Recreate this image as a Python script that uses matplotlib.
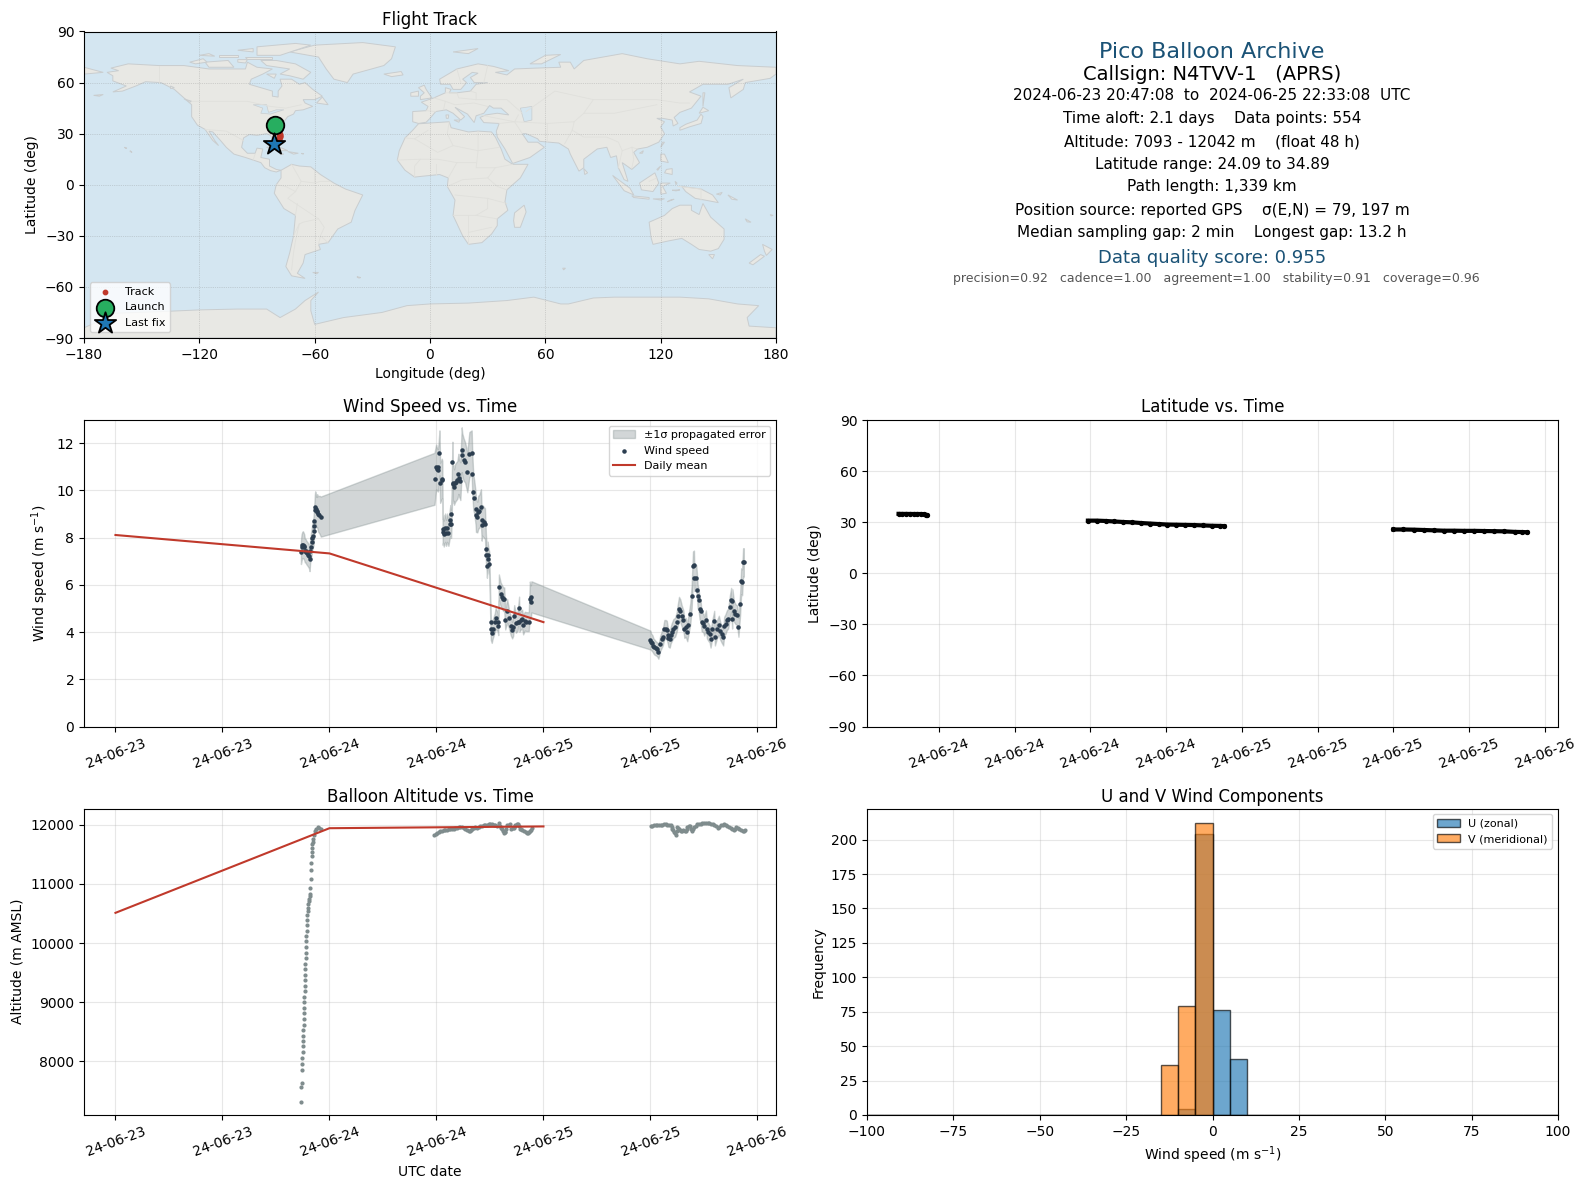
# -*- coding: utf-8 -*-
from datetime import datetime, timedelta

import numpy as np
import matplotlib
matplotlib.use("Agg")
import matplotlib.pyplot as plt
import matplotlib.dates as mdates
from matplotlib.patches import Polygon

W, H = 1587, 1189
BASE = datetime(2024, 6, 23)

# --- coarse land outlines (lon, lat) ---
north_america = [(-168,66),(-162,67),(-166,68.5),(-157,71),(-141,70),(-128,70),(-115,68),(-108,68),(-96,68),(-95,72),(-90,69),(-82,68),(-87,65),(-93,62),(-94,59),(-88,57),(-82,55),(-82,52),(-79,51.5),(-79,55),(-77,58),(-78,62),(-72,62),(-68,59),(-65,60),(-61,56),(-56,52),(-60,50),(-66,50),(-65,48),(-61,46),(-66,44),(-70,43.5),(-71,41.5),(-74,40),(-76,37),(-76,35),(-80,32),(-81,30),(-80,26),(-81,25),(-83,29),(-85,30),(-90,29),(-94,29.5),(-97,27.5),(-98,22),(-95,18.5),(-91,18.5),(-90,21.5),(-87,21),(-88,16),(-83.5,15),(-83.5,11),(-80,9),(-77.5,8.5),(-80,7.5),(-83,8.3),(-86,10),(-88,13),(-92,14.5),(-96,16),(-102,18),(-106,22),(-109,26),(-113,31),(-115,31.5),(-112,26),(-110,23),(-113,26),(-117,32.5),(-121,35),(-124,40),(-124,47),(-128,51),(-133,56),(-140,60),(-148,60.5),(-153,58),(-160,55),(-165,54.5),(-158,58),(-165,61),(-165,64)]
greenland = [(-73,78),(-60,82),(-35,83.5),(-18,81),(-20,74),(-24,70),(-40,65),(-43,60),(-50,62),(-54,68),(-58,75)]
south_america = [(-77.5,8.5),(-72,12),(-68,11),(-62,10.5),(-57,6),(-50,1),(-44,-2.5),(-35,-6),(-39,-15),(-41,-22),(-48,-26),(-53,-34),(-58,-35),(-57,-38),(-65,-41),(-66,-46),(-69,-52),(-65,-55),(-72,-53.5),(-75,-48),(-73,-40),(-71,-30),(-70,-18),(-76,-14),(-81,-5),(-80,0),(-77.5,4)]
africa = [(-6,35.8),(10,37),(11,33.5),(20,31),(25,31.5),(32,31),(34,28),(37,21),(39,15),(43,12),(51,12),(47,4),(40,-3),(39,-10),(40.5,-15),(35,-20),(35,-24),(32,-29),(27,-34),(20,-35),(17,-30),(12,-18),(13,-9),(9,-1),(9.5,4),(5,6),(-4,5),(-8,4.5),(-13,8.5),(-17,14.5),(-16,20),(-13,27.5),(-9,32)]
eurasia = [(-9,37),(-9,43),(-2,43.5),(-1,46),(-4.5,48.5),(2,51),(8,54),(8,57),(11,56),(10,54),(14,54),(21,55),(24,59),(30,60),(23,60),(21,63),(25,65.5),(22,66),(17,62),(19,60),(16,56),(12,56),(10.5,59),(5.5,59),(5,62),(14,68),(25,71),(33,69.5),(41,67),(34,66),(40,64.5),(44,68),(55,68.5),(68,69),(67,72),(73,72),(75,68),(80,73),(100,77),(113,74),(130,71),(140,72.5),(160,70),(170,69.5),(180,69),(180,65),(177,62.5),(164,60),(163,56),(156.5,51),(155.5,57),(163,62),(155,59),(142,59),(135,54.5),(141,52),(136,45),(130,42.5),(127,39.5),(129,36),(126.5,34.5),(126,38),(121,39),(118,39),(122,37),(120,34),(122,30),(119,25),(113,22),(108,21),(106,19),(109,13),(105,9),(100,13),(103,2),(101,3),(98,10),(97,17),(94,16),(92,22),(87,21),(80,15),(80,10),(77.5,8),(73,18),(72,21),(67,24.5),(57,25.5),(56,27),(50,30),(48,30),(51,25),(56,25),(59.5,22),(52,16),(43,12.5),(39,21),(35,28),(34.5,31.5),(36,36),(28,36.5),(26,39.5),(29,41),(35,42),(41,41),(37,45),(33,45),(31,46.5),(28,42),(24,40.5),(23,36.5),(19.5,41.5),(13,45.5),(18,40),(16,38),(12,42),(8.5,44),(3,43),(0,39),(-2,36.7),(-6,36)]
australia = [(114,-22),(122,-18),(126,-14),(130,-12),(136,-12),(136,-15),(140,-17.5),(142,-11),(146,-19),(153,-26),(153,-32),(150,-37.5),(146,-39),(140,-38),(136,-35),(131,-31.5),(124,-33),(116,-35),(115,-31)]
antarctica = [(-180,-90),(-180,-84),(-172,-80),(-165,-75.5),(-140,-74.5),(-120,-73.5),(-100,-73),(-85,-73),(-78,-78),(-70,-73),(-65,-68),(-58,-63),(-62,-68),(-62,-74),(-60,-82),(-45,-78),(-25,-75),(-12,-71),(0,-70),(20,-69.5),(40,-68),(54,-66),(68,-70),(72,-70),(85,-66.5),(96,-66),(115,-66),(130,-66),(145,-67),(160,-70),(171,-71),(165,-78),(166,-83),(180,-84),(180,-90)]
islands = [
    [(-80,73),(-70,71),(-62,66),(-66,62),(-73,64),(-78,65),(-73,68),(-85,70),(-88,73)],
    [(-117,72),(-105,73),(-102,69),(-115,69)],
    [(-90,76),(-78,76),(-62,82),(-70,83),(-90,81)],
    [(-125,72),(-118,74),(-116,72),(-122,71)],
    [(-96,75),(-82,75),(-82,74),(-95,74)],
    [(-110,76),(-100,76),(-100,75),(-110,75)],
    [(-120,76),(-115,77),(-112,75.5)],
    [(-100,79),(-92,80),(-92,78)],
    [(-100,73.5),(-95,73.5),(-96,71.5),(-100,72)],
    [(-85,65),(-80,65),(-81,62.5)],
    [(-59,48),(-53,47),(-56,51.5)],
    [(-85,22),(-80,23),(-74,20),(-78,20)],
    [(-74,19.5),(-68.5,18.5),(-71,18)],
    [(-78,18.3),(-76.2,18),(-77,17.8)],
    [(-67,18.4),(-65.7,18.3),(-66,18)],
    [(-128,50.5),(-124,49),(-125,48.5)],
    [(-135,58),(-133,57),(-135,56.5)],
    [(-175,52.5),(-170,53),(-172,52)],
    [(-5,50),(1,51),(-2,56),(-3,58.5),(-6,57),(-3,54),(-5,52)],
    [(-10,52),(-6,52),(-6,55),(-10,54)],
    [(-24,65),(-15,66.5),(-14,64.5),(-20,63.5)],
    [(12,78),(25,80),(20,77)],
    [(52,71),(58,71),(68,76.5),(60,76)],
    [(8.3,41),(9.7,41),(9.5,39),(8.5,39)],
    [(12.5,38),(15.5,38),(15,36.7)],
    [(130,32),(135,34),(141,36),(142,40),(141,41.5),(139,38),(133,35.5),(130,33.5)],
    [(140,42),(145,43.5),(142,45.5)],
    [(142,46),(143,54),(142,54)],
    [(120,22),(122,25),(121,25)],
    [(109,18.5),(111,20),(110.5,18.5)],
    [(120,18),(122,18),(124,13),(120,14)],
    [(122,7),(126,6),(126,9.5),(123,9)],
    [(118,9),(120,11),(118.5,8.5)],
    [(95,5.5),(104,-2),(106,-6),(101,-3.5)],
    [(105,-6.5),(114,-7.5),(114,-8.5),(106,-7.5)],
    [(116,-8.3),(122,-8.2),(120,-9)],
    [(123.5,-10),(127,-8.5),(125,-9)],
    [(109,1),(117,7),(119,1),(116,-4),(110,-3)],
    [(120,1),(125,1),(121,-1),(123,-5),(120,-5.5)],
    [(127.5,2),(128.5,1),(128,0)],
    [(126,-3.2),(130,-3),(128,-3.6)],
    [(131,-1),(141,-2.5),(147,-6),(150,-10.5),(143,-9),(138,-8),(133,-4)],
    [(149,-5.5),(152,-4.5),(151,-6)],
    [(155,-6),(160,-9),(157,-8.5)],
    [(164,-20),(167,-22),(165,-21.8)],
    [(177,-17.5),(178.5,-18),(177.5,-18.3)],
    [(145,-41),(148,-41),(147,-43.5)],
    [(173,-35),(178,-38),(175,-41.5),(174,-39)],
    [(172,-41),(174,-42),(168,-47),(166,-46)],
    [(49,-12),(50,-16),(47,-25),(44,-25),(43.5,-21),(44,-16.5)],
    [(80,9.5),(82,7),(80.5,6)],
    [(-156,20),(-155,19),(-156,19.5)],
    [(-159,22),(-157.7,21.5),(-158.2,21.3)],
    [(-61,-51.5),(-58,-51.5),(-59,-52.3)],
    [(-38,-54),(-36,-54.5),(-37,-54.8)],
    [(69,-49),(70.5,-49),(69.5,-50)],
    [(-180,69),(-170,66),(-180,65)],
]
lakes = [
    [(-92,47),(-85,47),(-84,42.5),(-80,44),(-76,44),(-79,43),(-83,41.5),(-88,42),(-87,45)],
    [(47,45),(53,46),(53,38),(49,37)],
]
borders = [
    [(-141,70),(-141,60)],[(-124,49),(-95,49),(-83,46),(-75,45),(-67,47)],[(-117,32.5),(-106,31.5),(-97,26)],
    [(-92,14.5),(-91,18)],[(-72,12),(-67,2),(-70,-4),(-74,-8),(-70,-11),(-58,-20),(-55,-25),(-57,-30),(-53,-34)],
    [(-80,0),(-75,-1),(-70,-4)],[(-70,-18),(-69,-11)],[(-71,-30),(-68,-23),(-66,-22),(-58,-20)],[(-72,-50),(-71,-40),(-70,-33),(-68,-23)],
    [(-60,8),(-60,1),(-67,2)],[(-52,2),(-57,2),(-60,1)],[(-58,-35),(-57,-30)],
    [(-2,43.5),(3,43)],[(2,51),(8,49),(7,44)],[(8,54),(14,54),(15,51),(24,50),(24,54),(21,55)],[(8,49),(13,47),(23,48),(30,46)],[(24,50),(40,50),(48,42)],[(28,60),(30,70)],[(14,68),(16,60)],
    [(26,41),(44,37),(46,41)],[(36,36),(44,37),(48,30)],[(44,37),(61,36),(61,25)],[(61,36),(75,37),(74,32),(70,24)],[(50,43),(65,55),(85,50),(95,50),(118,50),(130,48),(135,48)],
    [(75,37),(80,42),(96,42),(118,47)],[(74,32),(80,28),(92,28),(98,25),(100,20),(105,22),(108,21)],[(100,20),(98,10)],[(105,22),(106,15),(105,10)],[(80,42),(85,50)],
    [(-13,27.5),(-8,27),(-1,32)],[(-8,27),(4,19),(12,23),(25,20),(36,22)],[(25,31.5),(25,20),(24,10),(34,10),(43,12)],[(-17,14.5),(-5,15),(4,15),(14,13),(24,13)],
    [(-8,4.5),(-8,11),(-5,15)],[(3,6),(3,12)],[(9.5,4),(14,13)],[(9,-1),(17,3),(30,4),(34,10)],[(30,4),(35,-1),(40,-3)],[(13,-6),(30,-8),(40,-11)],
    [(12,-18),(24,-18),(35,-20)],[(20,-18),(20,-35)],[(24,-18),(30,-14),(30,-8)],[(20,-28),(32,-25)],[(10,37),(9,30),(12,23)],
    [(129,-1),(141,-2.5),(141,-9)],[(114,2),(118,4)],
]

# --- track ---
track_lon = [-80.6, -80.4, -80.0, -78.6, -78.4, -78.3, -78.2, -78.2, -78.2, -78.2, -78.2, -78.3, -78.3, -78.4, -78.6, -79.2, -80.2, -81.2]
track_lat = [34.89, 34.8, 34.4, 30.9, 30.4, 30.0, 29.6, 29.2, 28.8, 28.4, 28.0, 27.6, 27.2, 26.8, 25.7, 25.0, 24.5, 24.09]

map_xticks = [-180, -120, -60, 0, 60, 120, 180]
map_yticks = [-90, -60, -30, 0, 30, 60, 90]

# --- wind speed, hours since 2024-06-23 00:00 ---
wind_h1 = [20.80,20.87,20.95,21.02,21.10,21.17,21.24,21.32,21.39,21.47,21.58,21.69,21.77,21.84,21.91,21.99,22.06,22.10,22.21,22.25,22.29,22.36,22.40,22.47,22.55,22.62,22.73,22.88,23.03]
wind_v1 = [7.38,7.59,7.69,7.70,7.66,7.59,7.45,7.45,7.38,7.34,7.28,7.21,7.08,7.45,7.59,7.80,7.99,8.08,8.27,8.48,8.72,9.17,9.31,9.21,9.07,9.14,9.00,8.97,8.89]
wind_e1 = [.50,.55,.55,.57,.55,.55,.50,.50,.50,.50,.50,.50,.50,.50,.55,.55,.55,.55,.60,.60,.60,.65,.65,.65,.65,.70,.75,.80,.85]

wind_h2 = [35.78,35.96,36.04,36.15,36.22,36.34,36.41,36.60,36.66,36.70,
           36.74,36.82,36.97,37.08,37.19,37.34,37.49,37.56,37.64,37.68,
           37.79,37.82,37.90,37.97,38.09,38.16,38.35,38.46,38.53,38.68,
           38.83,38.90,39.05,39.20,39.46,39.69,39.95,40.02,40.13,40.25,
           40.39,40.43,40.58,40.69,40.80,40.99,41.07,41.14,41.29,41.44,
           41.55,41.60,41.66,41.74,41.81,41.92,42.07,42.10,42.20,42.30,
           42.55,42.63,42.85,42.93,43.00,43.19,43.34,43.49,43.60,43.71,
           43.93,44.12,44.34,44.49,44.60,44.72,44.90,45.09,45.27,45.30,
           45.46,45.61,45.72,45.90,46.09,46.35,46.47,46.58,46.65]
wind_v2 = [10.49,10.99,10.92,10.85,10.99,11.59,10.32,10.49,10.45,8.24,
           8.38,8.17,8.42,8.20,8.42,8.20,8.59,8.73,8.59,9.01,
           11.21,10.28,10.32,10.14,10.31,10.35,10.45,10.70,10.54,10.39,
           11.72,11.51,11.30,11.20,10.77,11.52,11.59,10.70,9.92,9.69,
           9.23,8.94,8.87,9.08,9.11,9.30,8.52,8.73,8.66,8.59,
           7.51,7.28,6.80,7.28,7.11,6.90,4.41,4.11,3.94,4.11,
           4.41,4.58,4.44,4.27,5.89,5.61,5.49,5.39,5.39,4.51,
           4.90,4.58,4.25,4.08,4.23,4.69,4.37,4.44,5.00,4.41,
           4.51,4.55,4.30,4.46,4.44,4.44,5.39,5.28,5.49]
wind_e2 = [1.10,.95,.90,.90,.95,.95,.85,.85,.80,.55,
           .60,.55,.60,.55,.60,.55,.60,.65,.60,.65,
           .85,.80,.75,.75,.80,.80,.80,.85,.80,.80,
           .95,.90,.90,.85,.85,.95,.95,.85,.75,.70,
           .70,.70,.65,.70,.70,.75,.65,.65,.65,.65,
           .60,.55,.50,.55,.50,.50,.45,.45,.40,.40,
           .40,.45,.40,.40,.55,.50,.50,.50,.50,.40,
           .50,.40,.40,.35,.40,.45,.40,.40,.50,.40,
           .40,.40,.40,.40,.40,.40,.75,.70,.66]

wind_h3 = [60.00,60.07,60.22,60.34,60.45,60.60,60.74,60.89,61.08,61.27,
           61.38,61.56,61.71,61.83,61.94,62.01,62.16,62.27,62.38,62.57,
           62.76,62.94,63.05,63.20,63.35,63.50,63.69,63.80,63.95,64.13,
           64.25,64.47,64.62,64.77,64.88,64.92,65.14,65.25,65.29,65.40,
           65.51,65.62,65.74,65.92,66.03,66.22,66.33,66.48,66.63,66.74,
           66.93,67.15,67.23,67.45,67.67,67.82,67.97,68.16,68.27,68.42,
           68.57,68.72,68.90,69.05,69.16,69.20,69.35,69.53,69.72,69.87,
           70.06,70.17,70.28,70.39,70.47]
wind_v3 = [3.66,3.59,3.52,3.41,3.36,3.31,3.27,3.17,3.50,3.69,
           3.78,4.11,4.11,4.08,3.87,3.73,3.69,3.87,3.99,4.15,
           4.20,4.43,4.69,4.99,4.90,4.69,4.50,4.15,4.20,3.99,
           4.29,4.78,5.51,6.81,6.85,6.29,6.29,5.79,5.51,5.37,
           4.99,4.90,4.43,4.39,4.25,4.50,4.11,4.01,3.92,3.69,
           4.11,4.48,3.78,4.11,4.29,4.06,3.92,3.78,4.25,4.34,
           4.50,4.57,5.06,5.37,4.57,5.31,4.90,4.76,4.71,4.20,
           5.20,6.15,6.11,6.95,6.95]
wind_e3 = [.40,.35,.35,.32,.32,.30,.30,.30,.32,.35,
           .35,.40,.40,.40,.35,.35,.35,.35,.38,.40,
           .40,.42,.45,.50,.48,.45,.42,.40,.40,.38,
           .40,.45,.50,.60,.60,.55,.55,.50,.50,.45,
           .45,.45,.40,.40,.40,.42,.38,.38,.36,.35,
           .38,.42,.35,.38,.40,.38,.36,.35,.40,.42,
           .42,.42,.48,.50,.42,.50,.45,.42,.42,.40,
           .45,.55,.55,.60,.60]

daily_h = [0, 24, 48]
wind_daily = [8.11, 7.33, 4.42]
alt_daily = [10510, 11940, 11970]

# --- altitude ---
alt_h = [20.80,20.86,20.88,20.92,20.95,20.97,20.99,21.01,21.03,21.05,21.07,21.09,21.11,21.13,21.15,21.17,21.19,21.21,21.23,21.25,
         21.27,21.29,21.31,21.33,21.35,21.37,21.39,21.41,21.43,21.46,21.49,21.52,21.55,21.58,21.62,21.66,21.71,21.77,21.83,21.87,
         21.90,21.94,21.98,22.01,22.03,22.05,22.09,22.16,22.20,22.31,22.35,22.50,22.69,22.88,23.03,
         35.76,36.06,36.43,36.81,37.18,37.56,37.93,38.31,38.68,39.06,39.43,39.73,39.99,40.37,40.55,40.93,41.30,41.68,42.05,42.43,
         42.80,42.99,43.18,43.36,43.55,43.74,43.93,44.22,44.41,44.67,44.86,45.12,45.35,45.61,45.99,46.25,46.47,46.73,
         60.03,60.40,60.78,61.15,61.53,61.90,62.28,62.46,62.65,62.84,63.03,63.21,63.40,63.70,63.96,64.15,64.45,64.71,64.90,65.27,
         65.65,66.02,66.40,66.77,67.15,67.52,67.90,68.27,68.64,69.02,69.32,69.58,69.96,70.33,70.59,
         35.95,36.25,36.62,37.00,37.37,37.75,38.12,38.50,38.87,39.25,39.60,39.86,40.18,40.74,41.12,41.49,41.87,42.24,42.62,43.27,
         43.46,43.65,43.84,44.08,44.54,44.76,44.99,45.24,45.48,45.80,46.12,46.36,46.60,
         60.21,60.59,60.96,61.34,61.71,62.09,62.37,62.56,62.75,62.93,63.12,63.30,63.55,63.83,64.05,64.30,64.58,64.80,65.08,65.46,
         65.83,66.21,66.58,66.96,67.33,67.71,68.08,68.45,68.83,69.17,69.45,69.77,70.15,70.46]
alt_m = [7320,7570,7640,7860,7960,8060,8160,8260,8350,8430,8530,8620,8720,8810,8900,9000,9090,9190,9280,9370,
         9460,9560,9650,9740,9830,9930,10030,10120,10210,10300,10390,10470,10540,10600,10660,10710,10750,10790,10830,10932,
         11085,11226,11356,11469,11537,11605,11678,11706,11763,11830,11887,11932,11955,11950,11932,
         11830,11864,11887,11904,11915,11921,11932,11949,11960,11949,11915,11887,11932,11960,11949,11972,11989,12000,12017,12000,
         11977,12028,11977,11932,11859,11876,11989,12017,11932,11949,12000,12017,11932,11904,11876,11859,11893,11943,
         11977,11989,12000,11989,12006,12000,11989,11932,11876,11830,11960,11932,11887,11904,11893,11960,11977,11887,11960,12006,
         12017,12023,12028,12017,12000,11943,11989,12006,11977,11943,11915,11960,11932,11887,11915,
         11850,11880,11900,11910,11920,11930,11945,11955,11955,11930,11900,11905,11945,11955,11980,11995,12010,12005,11990,11950,
         11900,11870,11930,12000,11945,11975,12005,11975,11920,11890,11865,11875,11915,
         11985,11995,11995,11995,12005,11995,11960,11905,11855,11895,11945,11910,11895,11900,11925,11970,11930,11925,11985,12010,
         12020,12025,12020,12010,11970,11965,11995,11990,11960,11930,11935,11945,11910,11900]

# --- latitude ---
lat_h = [20.80,21.1,21.4,21.7,22.0,22.3,22.6,22.8,22.95,23.03,
         35.80,36.5,37.2,37.9,38.6,39.3,40.0,40.7,41.4,42.1,42.8,43.5,44.2,44.9,45.6,46.3,46.6,
         60.0,60.8,61.6,62.4,63.2,64.0,64.8,65.6,66.4,67.2,68.0,68.8,69.6,70.2,70.59]
lat_deg = [34.89,34.85,34.85,34.82,34.8,34.8,34.78,34.7,34.4,34.2,
           30.9,30.9,30.7,30.4,30.1,29.9,29.5,29.2,28.9,28.6,28.5,28.4,28.3,28.1,27.9,27.8,27.7,
           25.7,25.7,25.6,25.4,25.2,25.0,25.0,24.9,24.9,24.8,24.7,24.6,24.3,24.2,24.09]

# --- histogram: 5 m/s bins from -100 to 100 ---
hist_edges = np.arange(-100, 100, 5)
u_counts = [0]*18 + [4, 204, 76, 41] + [0]*18
v_counts = [0]*17 + [36, 79, 212] + [0]*20


def px_axes(fig, left, top, right, bottom):
    return fig.add_axes([left / W, 1 - bottom / H, (right - left) / W, (bottom - top) / H])


def to_dates(hours):
    return [BASE + timedelta(hours=float(x)) for x in hours]


def style_time_axis(ax, hours_list):
    ax.xaxis.set_major_locator(mdates.HourLocator(byhour=hours_list))
    ax.xaxis.set_major_formatter(mdates.DateFormatter("%y-%m-%d"))
    ax.tick_params(axis="x", labelrotation=20)
    ax.grid(True, alpha=0.3)
    ax.set_axisbelow(True)


fig = plt.figure(figsize=(W / 100, H / 100), dpi=100)

# Map
ax_map = px_axes(fig, 84, 31.5, 776, 338)
ax_map.set_facecolor("#d4e6f1")
for poly in [north_america, greenland, south_america, africa, eurasia, australia, antarctica] + islands:
    ax_map.add_patch(Polygon(poly, closed=True, facecolor="#e8e8e4", edgecolor="#c9cdcf", linewidth=0.7, zorder=1))
for poly in lakes:
    ax_map.add_patch(Polygon(poly, closed=True, facecolor="#d4e6f1", edgecolor="#c9cdcf", linewidth=0.5, zorder=1.1))
for line in borders:
    xs, ys = zip(*line)
    ax_map.plot(xs, ys, color="#e0e0dc", linewidth=0.6, zorder=1.2)
ax_map.scatter(track_lon, track_lat, s=10, color="#c0392b", label="Track", zorder=3)
ax_map.scatter(track_lon[0], track_lat[0], s=160, color="#27ae60", edgecolor="black", linewidth=1.3, label="Launch", zorder=4)
ax_map.scatter(track_lon[-1], track_lat[-1], s=260, marker="*", color="tab:blue", edgecolor="black", linewidth=1.3, label="Last fix", zorder=5)
ax_map.set_xlim(-180, 180)
ax_map.set_ylim(-90, 90)
ax_map.set_xticks(map_xticks)
ax_map.set_yticks(map_yticks)
ax_map.grid(True, color="gray", linestyle=":", linewidth=0.5, alpha=0.5, zorder=2)
ax_map.set_xlabel("Longitude (deg)")
ax_map.set_ylabel("Latitude (deg)")
ax_map.set_title("Flight Track", fontsize=12, pad=5)
ax_map.legend(loc="lower left", fontsize=8)

# Text panel
cx = 1212
info = [
    (52, "Pico Balloon Archive", 16, "#1a5276", 0),
    (74, "Callsign: N4TVV-1   (APRS)", 14, "black", 0),
    (95, "2024-06-23 20:47:08  to  2024-06-25 22:33:08  UTC", 11, "black", 0),
    (118, "Time aloft: 2.1 days    Data points: 554", 11, "black", 0),
    (142, "Altitude: 7093 - 12042 m    (float 48 h)", 11, "black", 0),
    (164, "Latitude range: 24.09 to 34.89", 11, "black", 0),
    (187, "Path length: 1,339 km", 11, "black", 0),
    (210, "Position source: reported GPS    \u03c3(E,N) = 79, 197 m", 11, "black", 0),
    (233, "Median sampling gap: 2 min    Longest gap: 13.2 h", 11, "black", 0),
    (258, "Data quality score: 0.955", 13, "#1a5276", 0),
    (279, "precision=0.92   cadence=1.00   agreement=1.00   stability=0.91   coverage=0.96", 9, "#555555", 4),
]
for y, txt, size, col, dx in info:
    fig.text((cx + dx) / W, 1 - y / H, txt, fontsize=size, color=col, ha="center", va="center")

# Wind speed
ax_wind = px_axes(fig, 84, 420, 776, 726.5)
wind_h = wind_h1 + wind_h2 + wind_h3
wind_v = np.array(wind_v1 + wind_v2 + wind_v3)
wind_e = np.array(wind_e1 + wind_e2 + wind_e3)
wind_t = to_dates(wind_h)
ax_wind.fill_between(wind_t, wind_v - wind_e, wind_v + wind_e, color="#7f8c8d", alpha=0.35, label="\u00b11\u03c3 propagated error")
ax_wind.scatter(wind_t, wind_v, s=5, color="#2c3e50", label="Wind speed", zorder=3)
ax_wind.plot(to_dates(daily_h), wind_daily, color="#c0392b", linewidth=1.5, label="Daily mean", zorder=4)
ax_wind.set_xlim(to_dates([-3.53])[0], to_dates([74.08])[0])
ax_wind.set_ylim(0, 12.98)
style_time_axis(ax_wind, [0, 12])
ax_wind.set_ylabel("Wind speed (m s$^{-1}$)")
ax_wind.set_title("Wind Speed vs. Time", fontsize=12)
ax_wind.legend(loc="upper right", fontsize=8)

# Latitude
ax_lat = px_axes(fig, 867, 420, 1558, 726.5)
ax_lat.scatter(to_dates(lat_h), lat_deg, s=8, color="black", zorder=3)
ax_lat.plot(to_dates(lat_h[:10]), lat_deg[:10], color="black", linewidth=3, zorder=3)
ax_lat.plot(to_dates(lat_h[10:27]), lat_deg[10:27], color="black", linewidth=3, zorder=3)
ax_lat.plot(to_dates(lat_h[27:]), lat_deg[27:], color="black", linewidth=3, zorder=3)
ax_lat.set_xlim(to_dates([18.3])[0], to_dates([73.04])[0])
ax_lat.set_ylim(-90, 90)
ax_lat.set_yticks(map_yticks)
style_time_axis(ax_lat, [0, 6, 12, 18])
ax_lat.set_ylabel("Latitude (deg)")
ax_lat.set_title("Latitude vs. Time", fontsize=12)

# Altitude
ax_alt = px_axes(fig, 84, 808.5, 776, 1115)
ax_alt.scatter(to_dates(alt_h), alt_m, s=4, color="#7f8c8d", zorder=3)
ax_alt.plot(to_dates(daily_h), alt_daily, color="#c0392b", linewidth=1.5, zorder=4)
ax_alt.set_xlim(to_dates([-3.53])[0], to_dates([74.08])[0])
ax_alt.set_ylim(7094, 12273)
style_time_axis(ax_alt, [0, 12])
ax_alt.set_xlabel("UTC date")
ax_alt.set_ylabel("Altitude (m AMSL)")
ax_alt.set_title("Balloon Altitude vs. Time", fontsize=12, pad=5)

# U / V histogram
ax_hist = px_axes(fig, 867, 808.5, 1558, 1115)
ax_hist.bar(hist_edges, u_counts, width=5, align="edge", color="tab:blue", edgecolor="black", alpha=0.65, label="U (zonal)")
ax_hist.bar(hist_edges, v_counts, width=5, align="edge", color="tab:orange", edgecolor="black", alpha=0.65, label="V (meridional)")
ax_hist.set_xlim(-100, 100)
ax_hist.set_ylim(0, 222.6)
ax_hist.grid(True, alpha=0.3)
ax_hist.set_axisbelow(True)
ax_hist.set_xlabel("Wind speed (m s$^{-1}$)")
ax_hist.set_ylabel("Frequency")
ax_hist.set_title("U and V Wind Components", fontsize=12, pad=5)
ax_hist.legend(loc="upper right", fontsize=8)

fig.savefig("out.png", dpi=100)
